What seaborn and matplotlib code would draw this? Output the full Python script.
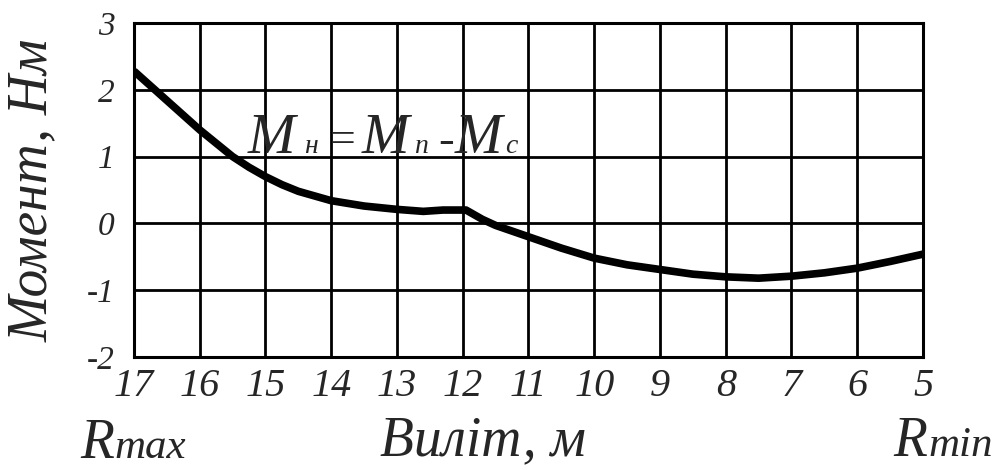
#importing libraries
import numpy as np
import pandas as pd
import seaborn as sns
import matplotlib.pyplot as plt

# data
reach = [17, 16.5, 16, 15.5, 15.25, 15, 14.75, 14.5, 14, 13.5, 13, 12.6, 12.3, 11.95, 11.7, 11.5,
         11, 10.5, 10, 9.5, 9, 8.5, 8, 7.5, 7, 6.5, 6, 5.5, 5]
moment = [2.28, 1.84, 1.4, 1.0, 0.84, 0.7, 0.58, 0.48, 0.34, 0.26, 0.21, 0.18, 0.2, 0.2, 0.06, -0.03,
          -0.2, -0.37, -0.52, -0.62, -0.69, -0.76, -0.8, -0.82, -0.79, -0.74, -0.67, -0.57, -0.46]
x_ticks = list(range(17, 4, -1))
y_ticks = [-2, -1, 0, 1, 2, 3]

df = pd.DataFrame({'reach': reach, 'moment': moment})

sns.set_style('white')
plt.rcParams['font.family'] = ['Liberation Serif', 'DejaVu Serif']
plt.rcParams['font.style'] = 'italic'
plt.rcParams['axes.unicode_minus'] = False

W, H = 998, 470
fig = plt.figure(figsize=(W / 100, H / 100), dpi=100)
ax = fig.add_axes([134 / W, 1 - 357 / H, (923 - 134) / W, (357 - 23) / H])

sns.lineplot(data=df, x='reach', y='moment', ax=ax, color='black', linewidth=5.5,
             solid_capstyle='butt', zorder=3)

ax.set_xlim(17, 5)
ax.set_ylim(-2, 3)
ax.set_xticks(x_ticks)
ax.set_yticks(y_ticks)
ax.grid(True, color='black', linewidth=2)
for s in ax.spines.values():
    s.set_color('black')
    s.set_linewidth(2.2)
ax.tick_params(axis='both', length=0)
ax.tick_params(axis='x', labelsize=29, pad=8)
ax.tick_params(axis='y', labelsize=24, pad=14)
for lab in ax.get_xticklabels() + ax.get_yticklabels():
    lab.set_fontstyle('italic')
ax.set_xlabel('')
ax.set_ylabel('')


def ftext(px, py, s, size, **kw):
    # place text by pixel position of the figure
    fig.text(px / W, 1 - py / H, s, fontsize=size, style='italic', **kw)


# axis titles
ftext(33, 190, 'Момент, Нм', 40, rotation=90, ha='center', va='center')
ftext(483, 455, 'Виліт, м', 40, ha='center', va='baseline')

# ends of the reach axis
ftext(80, 458, 'R', 40, ha='left', va='baseline')
ftext(114, 458, 'max', 31, ha='left', va='baseline')
ftext(893, 456, 'R', 40, ha='left', va='baseline')
ftext(928, 456, 'min', 31, ha='left', va='baseline')

# formula on the chart
base = 153
ftext(248, base, 'M', 41, ha='left', va='baseline')
ftext(304, base, 'н', 20, ha='left', va='baseline')
ftext(327, base, '=', 33, ha='left', va='baseline')
ftext(362, base, 'M', 41, ha='left', va='baseline')
ftext(414, base, 'п', 20, ha='left', va='baseline')
ftext(438, base, '-', 34, ha='left', va='baseline')
ftext(455, base, 'M', 41, ha='left', va='baseline')
ftext(505, base, 'с', 20, ha='left', va='baseline')

plt.savefig('out.png', dpi=100)
